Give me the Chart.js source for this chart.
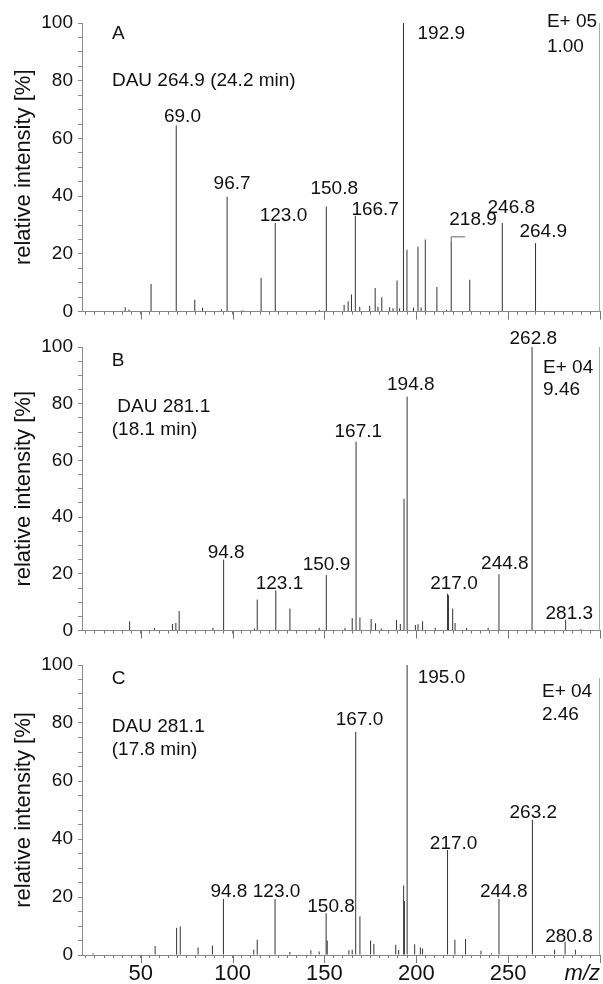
<!DOCTYPE html>
<html>
<head>
<meta charset="utf-8">
<script src="https://cdn.jsdelivr.net/npm/chart.js"></script>
<style>
  body { margin: 0; background: #fff; }
  .panel { position: absolute; left: 0; width: 603px; }
</style>
</head>
<body>
<div class="panel" style="top:0px;height:328px"><canvas id="chartA"></canvas></div>
<div class="panel" style="top:320px;height:327px"><canvas id="chartB"></canvas></div>
<div class="panel" style="top:639px;height:345px"><canvas id="chartC"></canvas></div>
<script>
// x range (m/z) and tick labels
const mzMin = 18;
const mzMax = 300;
const xTickLabels = [50, 100, 150, 200, 250];
const yTickLabels = [0, 20, 40, 60, 80, 100];

// panel A : DAU 264.9 (24.2 min)
const mzA  = [41.5, 43.6, 55.6, 69.3, 79.4, 83.6, 93.9, 97.0, 105.6, 115.5, 123.2, 147.3, 151.0, 160.7, 162.9, 164.7, 166.8, 169.2, 174.6, 177.6, 179.1, 181.2, 185.5, 187.3, 189.5, 190.9, 193.0, 194.9, 198.5, 200.9, 202.6, 204.9, 211.2, 216.5, 219.0, 229.1, 246.8, 264.9];
const intA = [1.5, 0.7, 9.6, 64.5, 4.1, 1.3, 0.8, 39.8, 0.5, 11.6, 30.7, 0.5, 36.4, 2.4, 3.6, 5.9, 33.2, 1.7, 2.0, 8.2, 1.7, 5.0, 1.5, 1.2, 10.8, 1.2, 100, 21.4, 1.4, 22.5, 1.4, 25.0, 8.5, 0.6, 24.4, 11.0, 30.7, 23.7];

// panel B : DAU 281.1 (18.1 min)
const mzB  = [43.9, 57.4, 67.3, 69.1, 70.9, 89.3, 95.1, 111.9, 113.4, 123.5, 131.2, 147.1, 151.0, 161.2, 165.1, 167.2, 169.3, 175.4, 177.8, 180.9, 189.2, 191.3, 193.3, 195.0, 199.5, 200.9, 203.4, 210.3, 217.0, 217.5, 219.8, 221.1, 227.4, 239.1, 245.0, 263.0, 281.3, 289.6];
const intB = [3.2, 1.0, 2.3, 2.7, 6.9, 1.0, 25.1, 0.7, 11.0, 14.2, 7.8, 1.0, 19.6, 1.0, 4.4, 66.6, 4.6, 4.1, 2.6, 0.7, 3.7, 2.3, 46.5, 82.5, 2.0, 2.2, 3.3, 1.0, 13.0, 12.5, 7.8, 2.7, 1.0, 1.0, 19.9, 100, 3.8, 0.5];

// panel C : DAU 281.1 (17.8 min)
const mzC  = [24.0, 57.8, 69.5, 71.5, 81.2, 89.0, 95.0, 111.5, 113.4, 123.1, 131.2, 142.6, 147.1, 150.9, 151.5, 163.3, 165.1, 167.0, 169.3, 175.1, 176.9, 188.8, 190.4, 193.1, 193.5, 195.0, 199.1, 202.2, 203.4, 217.0, 221.0, 226.8, 235.2, 240.9, 245.0, 263.2, 275.3, 281.0, 286.6];
const intC = [0.6, 3.1, 9.4, 9.8, 2.6, 3.3, 19.3, 1.8, 5.3, 19.3, 1.0, 1.6, 1.2, 14.4, 5.0, 1.6, 1.8, 77.0, 13.4, 5.0, 3.8, 3.5, 1.7, 24.0, 18.6, 100, 3.7, 2.6, 2.2, 36.2, 5.3, 5.5, 1.5, 0.6, 19.3, 46.6, 1.8, 4.6, 1.8];

// texts, placed in data units (m/z, %)
const notesA = [
  { text: 'A', x: 34.3, y: 94.3, align: 'left' },
  { text: 'DAU 264.9 (24.2 min)', x: 34.3, y: 78.2, align: 'left' },
  { text: 'E+ 05', x: 271.1, y: 98.7, align: 'left' },
  { text: '1.00', x: 271.1, y: 90.1, align: 'left' },
  { text: '69.0', x: 72.7, y: 65.7 },
  { text: '96.7', x: 99.7, y: 42.6 },
  { text: '123.0', x: 127.7, y: 31.3 },
  { text: '150.8', x: 155.3, y: 40.9 },
  { text: '166.7', x: 177.6, y: 33.5 },
  { text: '192.9', x: 213.6, y: 94.3 },
  { text: '218.9', x: 230.9, y: 30.1 },
  { text: '246.8', x: 251.7, y: 34.3 },
  { text: '264.9', x: 269.1, y: 25.8 }
];
const notesB = [
  { text: 'B', x: 34.2, y: 93.4, align: 'left' },
  { text: 'DAU 281.1', x: 37.2, y: 77.0, align: 'left' },
  { text: '(18.1 min)', x: 34.2, y: 68.9, align: 'left' },
  { text: 'E+ 04', x: 269.0, y: 90.8, align: 'left' },
  { text: '9.46', x: 269.0, y: 83.0, align: 'left' },
  { text: '94.8', x: 96.5, y: 25.7 },
  { text: '123.1', x: 125.5, y: 14.8 },
  { text: '150.9', x: 151.1, y: 21.4 },
  { text: '167.1', x: 168.4, y: 68.3 },
  { text: '194.8', x: 197.0, y: 84.8 },
  { text: '217.0', x: 220.5, y: 14.8 },
  { text: '244.8', x: 248.2, y: 21.7 },
  { text: '262.8', x: 263.7, y: 101.2 },
  { text: '281.3', x: 283.3, y: 4.1 }
];
const notesC = [
  { text: 'C', x: 34.2, y: 93.4, align: 'left' },
  { text: 'DAU 281.1', x: 34.2, y: 77.0, align: 'left' },
  { text: '(17.8 min)', x: 34.2, y: 69.0, align: 'left' },
  { text: 'E+ 04', x: 268.4, y: 88.9, align: 'left' },
  { text: '2.46', x: 268.4, y: 81.0, align: 'left' },
  { text: '94.8', x: 98.0, y: 20.1 },
  { text: '123.0', x: 123.9, y: 20.1 },
  { text: '150.8', x: 153.6, y: 14.9 },
  { text: '167.0', x: 169.1, y: 79.3 },
  { text: '195.0', x: 213.7, y: 93.9 },
  { text: '217.0', x: 220.3, y: 36.4 },
  { text: '244.8', x: 247.6, y: 20.1 },
  { text: '263.2', x: 263.7, y: 47.1 },
  { text: '280.8', x: 283.1, y: 4.6 }
];
// bracket at 218.9 in A
const bracketA = [[219.0, 24.4], [219.0, 25.9], [226.6, 25.9]];

Chart.defaults.font.family = '"Liberation Sans", Arial, Helvetica, sans-serif';
Chart.defaults.color = '#111';

function panelPlugin(notes, frameTop, bottomPanel, bracket) {
  return {
    id: 'panelDeco',
    afterDraw: (chart) => {
      const ctx = chart.ctx;
      const area = chart.chartArea;
      const x = chart.scales.x;
      const y = chart.scales.y;
      ctx.save();
      // right frame line
      ctx.strokeStyle = '#aaa';
      ctx.lineWidth = 1;
      ctx.beginPath();
      const rx = Math.round(area.right) - 0.5;
      ctx.moveTo(rx, y.getPixelForValue(frameTop));
      ctx.lineTo(rx, area.bottom);
      ctx.stroke();
      // longer ticks every 50
      ctx.strokeStyle = '#777';
      ctx.beginPath();
      for (let v = 50; v <= mzMax; v += 50) {
        const px = Math.round(x.getPixelForValue(v)) + 0.5;
        ctx.moveTo(px, area.bottom);
        ctx.lineTo(px, area.bottom + 8);
      }
      ctx.stroke();
      if (bracket) {
        ctx.strokeStyle = '#666';
        ctx.beginPath();
        bracket.forEach((p, i) => {
          const px = x.getPixelForValue(p[0]);
          const py = y.getPixelForValue(p[1]);
          if (i === 0) ctx.moveTo(px, py); else ctx.lineTo(px, py);
        });
        ctx.stroke();
      }
      ctx.fillStyle = '#111';
      ctx.font = '19px "Liberation Sans", Arial, sans-serif';
      ctx.textBaseline = 'alphabetic';
      notes.forEach(n => {
        ctx.textAlign = n.align || 'center';
        ctx.fillText(n.text, x.getPixelForValue(n.x), y.getPixelForValue(n.y));
      });
      if (bottomPanel) {
        ctx.font = 'italic 22px "Liberation Sans", Arial, sans-serif';
        ctx.textAlign = 'right';
        ctx.fillText('m/z', area.right, area.bottom + 25);
      }
      ctx.restore();
    }
  };
}

function makePanel(id, mz, inten, notes, cfg) {
  const points = mz.map((m, i) => ({ x: m, y: inten[i] }));
  return new Chart(document.getElementById(id), {
    type: 'bar',
    data: {
      datasets: [{
        data: points,
        backgroundColor: '#333',
        borderWidth: 0,
        barThickness: 1,
        inflateAmount: 0
      }]
    },
    options: {
      responsive: true,
      maintainAspectRatio: false,
      animation: false,
      devicePixelRatio: 1,
      layout: { padding: { top: cfg.padTop, right: 1, left: 0, bottom: 0 } },
      plugins: { legend: { display: false }, tooltip: { enabled: false } },
      scales: {
        x: {
          type: 'linear',
          min: mzMin,
          max: mzMax,
          offset: false,
          grid: { drawOnChartArea: false, offset: false, tickLength: 3, color: '#777' },
          border: { color: '#888' },
          ticks: {
            stepSize: 5,
            autoSkip: false,
            includeBounds: false,
            maxRotation: 0,
            padding: 3,
            font: { size: 22 },
            callback: v => (cfg.bottom && xTickLabels.includes(v)) ? String(v) : ''
          },
          afterFit: s => { s.height = cfg.xHeight; }
        },
        y: {
          min: 0,
          max: 100,
          grid: { drawOnChartArea: false, tickLength: 4, color: '#888' },
          border: { color: '#888' },
          ticks: {
            stepSize: 5,
            autoSkip: false,
            padding: 5,
            font: { size: 19 },
            callback: v => yTickLabels.includes(v) ? String(v) : ''
          },
          title: {
            display: true,
            text: 'relative intensity [%]',
            font: { size: 22 },
            padding: { top: 11, bottom: 0 }
          },
          afterFit: s => { s.width = 82; }
        }
      }
    },
    plugins: [panelPlugin(notes, cfg.frameTop, cfg.bottom, cfg.bracket)]
  });
}

makePanel('chartA', mzA, intA, notesA, { padTop: 23, xHeight: 11, frameTop: 100, bottom: false, bracket: bracketA });
makePanel('chartB', mzB, intB, notesB, { padTop: 27, xHeight: 11, frameTop: 100, bottom: false });
makePanel('chartC', mzC, intC, notesC, { padTop: 26, xHeight: 29, frameTop: 95.5, bottom: true });
</script>
</body>
</html>
